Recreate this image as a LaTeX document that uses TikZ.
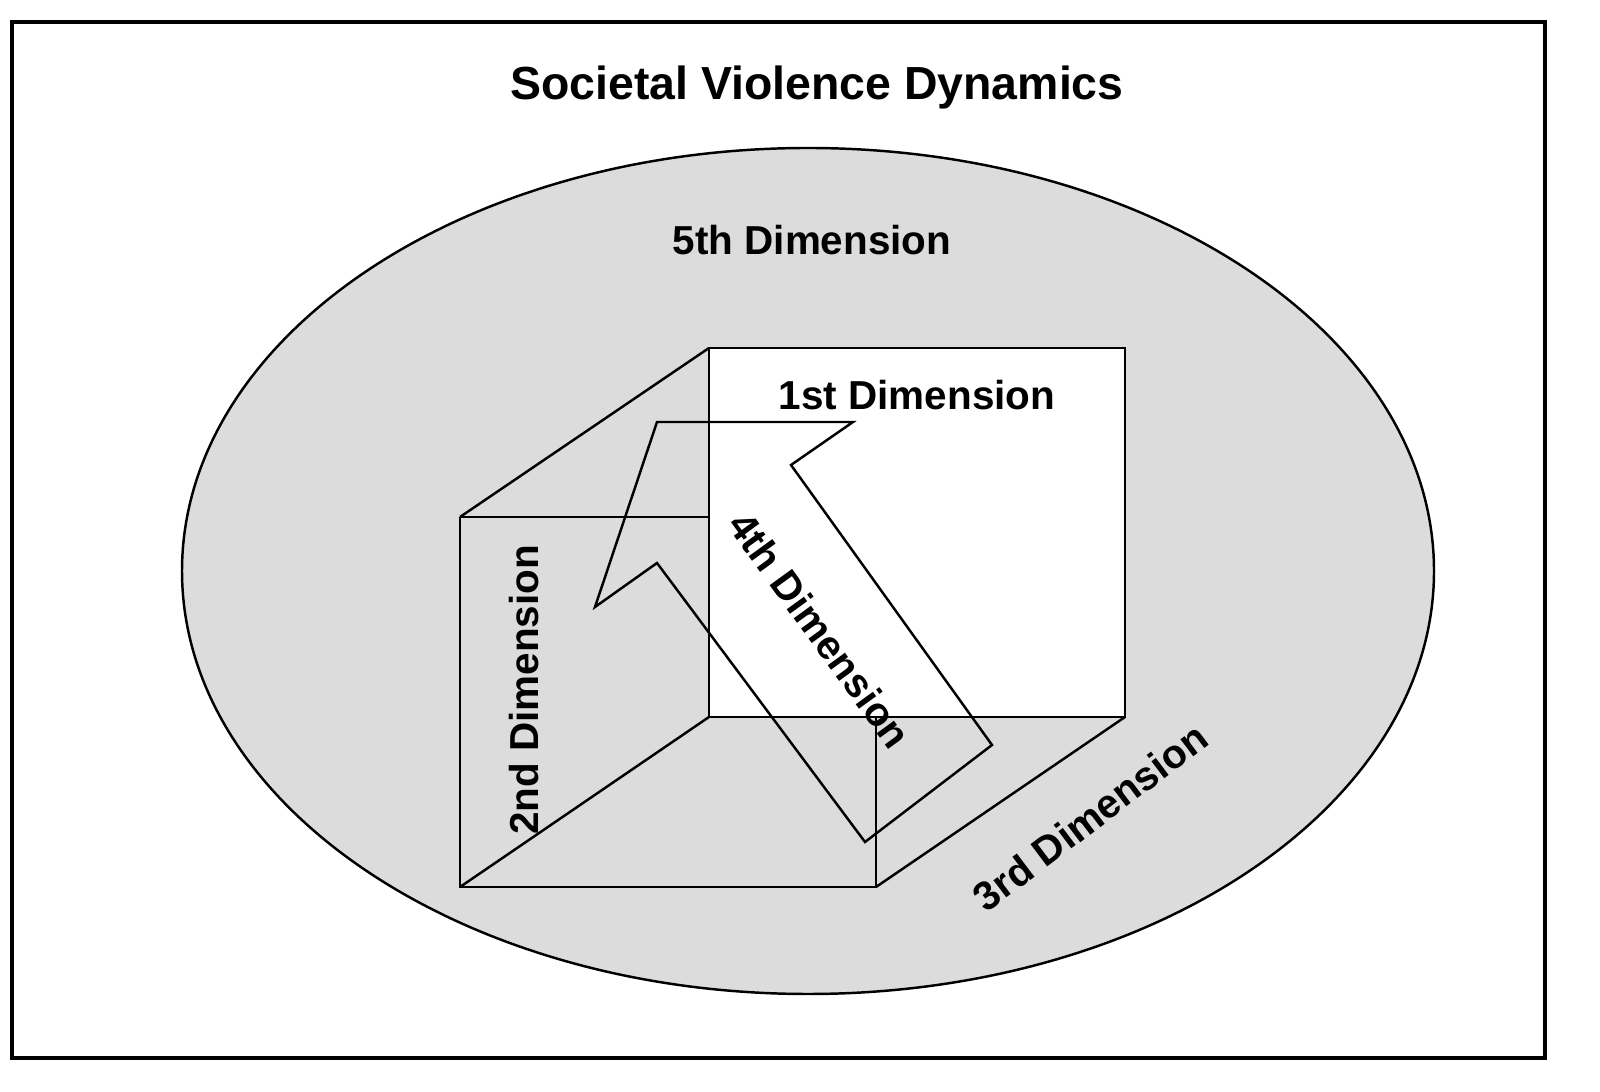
\documentclass[tikz,border=0pt]{standalone}
\usepackage{fontspec}
\setmainfont{Liberation Sans}
\usetikzlibrary{positioning}
\definecolor{shadegray}{HTML}{DCDCDC}

\begin{document}
\begin{tikzpicture}[x=0.01cm, y=-0.01cm,
  dimlabel/.style={font=\fontsize{11.5}{13}\selectfont\bfseries, inner sep=1pt},
  edge/.style={draw=black, line width=0.7pt}
]
  \useasboundingbox (0,0) rectangle (1600,1092);
  \fill[white] (0,0) rectangle (1600,1092);

  % Frame and outer ellipse
  \draw[edge, line width=1pt] (12,22) rectangle (1545,1058);
  \draw[edge, fill=shadegray] (808,571) ellipse [x radius=626, y radius=423];

  % Box
  \draw[edge, fill=white] (709,348) rectangle (1125,717);
  \draw[edge] (460,517) -- (709,348);
  \draw[edge] (460,517) -- (709,517);
  \draw[edge] (460,517) -- (460,887) -- (876,887) -- (876,717);
  \draw[edge] (460,887) -- (709,717);
  \draw[edge] (876,887) -- (1125,717);

  % Arrow
  \draw[edge] (657,422) -- (853,422) -- (791,465) -- (992,745) -- (865,842)
    -- (657,563) -- (595,607) -- cycle;

  % Labels
  \node[font=\fontsize{13.2}{15}\selectfont\bfseries] (title) at (817,88) {Societal Violence Dynamics};
  \node[dimlabel] (fifth) at (812,240) {5th Dimension};
  \node[dimlabel] (first) at (917,395) {1st Dimension};
  \node[dimlabel, rotate=90] (second) at (524,690) {2nd Dimension};
  \node[dimlabel, rotate=-54] (fourth) at (820,630) {4th Dimension};
  \node[dimlabel, rotate=37] (third) at (1090,817) {3rd Dimension};
\end{tikzpicture}
\end{document}
